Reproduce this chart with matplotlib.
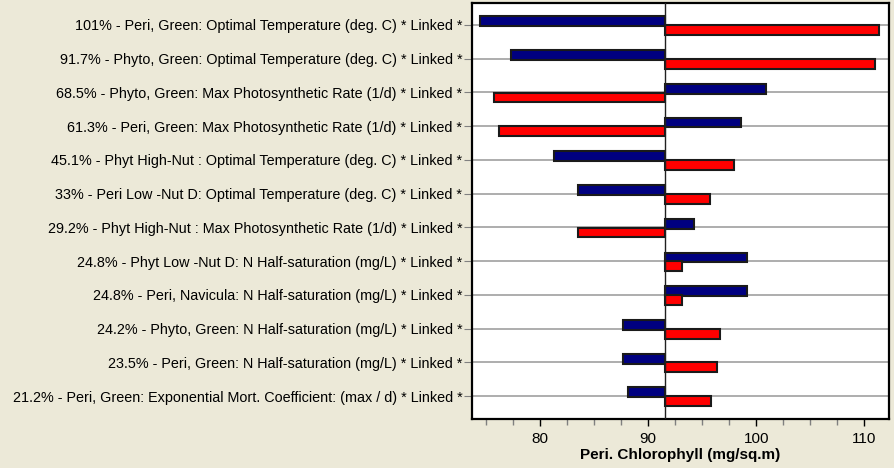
import matplotlib
matplotlib.use("Agg")
import matplotlib.pyplot as plt
from matplotlib.ticker import MultipleLocator
import numpy as np

plt.rcParams['font.family'] = ['Liberation Sans', 'DejaVu Sans']

# parameters, top to bottom
labels = [
    "101% - Peri, Green: Optimal Temperature (deg. C) * Linked *",
    "91.7% - Phyto, Green: Optimal Temperature (deg. C) * Linked *",
    "68.5% - Phyto, Green: Max Photosynthetic Rate (1/d) * Linked *",
    "61.3% - Peri, Green: Max Photosynthetic Rate (1/d) * Linked *",
    "45.1% - Phyt High-Nut : Optimal Temperature (deg. C) * Linked *",
    "33% - Peri Low -Nut D: Optimal Temperature (deg. C) * Linked *",
    "29.2% - Phyt High-Nut : Max Photosynthetic Rate (1/d) * Linked *",
    "24.8% - Phyt Low -Nut D: N Half-saturation (mg/L) * Linked *",
    "24.8% - Peri, Navicula: N Half-saturation (mg/L) * Linked *",
    "24.2% - Phyto, Green: N Half-saturation (mg/L) * Linked *",
    "23.5% - Peri, Green: N Half-saturation (mg/L) * Linked *",
    "21.2% - Peri, Green: Exponential Mort. Coefficient: (max / d) * Linked *",
]
baseline = 91.6
blue_vals = [74.4, 77.3, 100.9, 98.6, 81.3, 83.5, 94.25, 99.1, 99.1, 87.7, 87.7, 88.1]
red_vals = [111.35, 111.0, 75.7, 76.2, 97.9, 95.7, 83.55, 93.1, 93.1, 96.6, 96.35, 95.8]

fig = plt.figure(figsize=(8.94, 4.68), dpi=100)
fig.patch.set_facecolor('#ECE9D8')
ax = fig.add_axes([0.528, 0.1047, 0.4666, 0.8895])
ax.set_facecolor('white')

y = np.arange(len(labels))
bh = 0.29
ax.barh(y - 0.11, np.array(blue_vals) - baseline, left=baseline, height=bh,
        color='#000080', edgecolor='#1a1a1a', linewidth=1.5, zorder=3)
ax.barh(y + 0.15, np.array(red_vals) - baseline, left=baseline, height=bh,
        color='#FF0000', edgecolor='#1a1a1a', linewidth=1.5, zorder=3)

for yy in y:
    ax.axhline(yy, color='#A0A0A0', lw=1.2, zorder=1)
ax.axvline(baseline, color='#202020', lw=1.0, zorder=4)

ax.set_xlim(73.7, 112.3)
ax.set_ylim(len(labels) - 1 + 0.68, -0.66)
ax.set_yticks(y)
ax.set_yticklabels(labels, fontsize=10.4)
ax.tick_params(axis='y', length=6, color='#808080', pad=1)
ax.xaxis.set_major_locator(MultipleLocator(10))
ax.xaxis.set_minor_locator(MultipleLocator(2.5))
ax.tick_params(axis='x', which='major', length=5, width=1, labelsize=11, pad=4)
ax.tick_params(axis='x', which='minor', length=4, width=1, color='#808080')
ax.set_xlabel("Peri. Chlorophyll (mg/sq.m)", fontsize=11, fontweight='bold', labelpad=2)

for s in ax.spines.values():
    s.set_linewidth(1.6)
    s.set_color('black')

fig.savefig("out.png", dpi=100, facecolor=fig.get_facecolor())
